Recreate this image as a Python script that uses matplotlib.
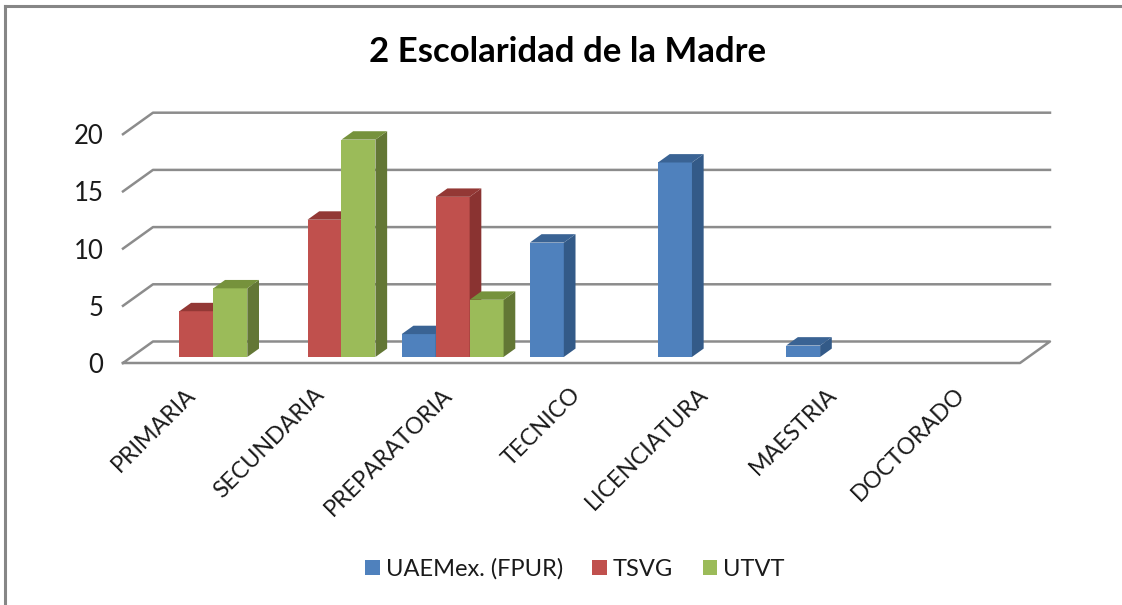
import matplotlib
matplotlib.use("Agg")
import matplotlib.pyplot as plt
from matplotlib.lines import Line2D
from matplotlib.patches import Patch
from matplotlib.transforms import ScaledTranslation

categories = ["PRIMARIA", "SECUNDARIA", "PREPARATORIA", "TECNICO", "LICENCIATURA", "MAESTRIA", "DOCTORADO"]
series_names = ["UAEMex. (FPUR)", "TSVG", "UTVT"]
uaemex = [0, 0, 2, 10, 17, 1, 0]
tsvg = [4, 12, 14, 0, 0, 0, 0]
utvt = [6, 19, 5, 0, 0, 0, 0]
y_ticks = [0, 5, 10, 15, 20]

front_cols = ["#4F81BD", "#C0504D", "#9BBB59"]
top_cols = ["#3A6394", "#933835", "#76923C"]
side_cols = ["#335A88", "#8A3331", "#637735"]
grid_col = "#8C8C8C"
text_col = "#1A1A1A"

plt.rcParams["font.family"] = ["Lato", "DejaVu Sans"]

W, H = 1122, 605
fig = plt.figure(figsize=(W / 100, H / 100), dpi=100, facecolor="white")
ax = fig.add_axes([123 / W, (H - 363) / H, (1020 - 123) / W, 228.8 / H])
ax.set_xlim(-0.5, 6.5)
ax.set_ylim(0, 20)
ax.patch.set_alpha(0)
for s in ax.spines.values():
    s.set_visible(False)

# depth of the fake 3d box, in data units
depth_x = 0.234
depth_y = 1.88
bar_w = 0.265
bar_start = 0.31
bar_end = 0.70
bar_lift = 0.28

x0, x1 = -0.5, 6.5
for v in y_ticks:
    if v == 0:
        ax.plot([x0, x1, x1 + depth_x, x0 + depth_x, x0], [0, 0, depth_y, depth_y, 0],
                color=grid_col, lw=1.8, clip_on=False, zorder=1)
    else:
        ax.plot([x0, x0 + depth_x, x1 + depth_x], [v, v + depth_y, v + depth_y],
                color=grid_col, lw=1.8, clip_on=False, zorder=1)


def draw_bar(x, v, i):
    # x is the left edge on the front plane of the box
    ax_ = x + bar_start * depth_x
    bx = x + bar_end * depth_x
    ay = bar_lift * depth_y
    by = (bar_lift + bar_end - bar_start) * depth_y
    w = bar_w
    z = 3 + i
    ax.bar(ax_, v, width=w, bottom=ay, align="edge", color=front_cols[i], lw=0, zorder=z, clip_on=False)
    ax.fill([ax_ + w, bx + w, bx + w, ax_ + w], [ay, by, by + v, ay + v],
            color=side_cols[i], lw=0, zorder=z, clip_on=False)
    ax.fill([ax_, ax_ + w, bx + w, bx], [ay + v, ay + v, by + v, by + v],
            color=top_cols[i], lw=0, zorder=z, clip_on=False)


for i, vals in enumerate([uaemex, tsvg, utvt]):
    for c, v in enumerate(vals):
        if v > 0:
            draw_bar(c - 1.5 * bar_w + i * bar_w, v, i)

ax.set_yticks(y_ticks)
ax.set_xticks(range(len(categories)))
ax.set_xticklabels(categories, rotation=45, ha="right", va="top", rotation_mode="anchor",
                   fontsize=16.7, color=text_col)
ax.tick_params(axis="both", length=0)
ax.tick_params(axis="y", pad=14, labelsize=18.5, labelcolor=text_col)
ax.tick_params(axis="x", pad=15)
off = ScaledTranslation(-2 / 100, 0, fig.dpi_scale_trans)
for lab in ax.get_xticklabels():
    lab.set_transform(lab.get_transform() + off)

fig.text(568 / W, (H - 52) / H, "2 Escolaridad de la Madre", ha="center", va="center",
         fontsize=25, fontweight="bold", color="black")

handles = [Patch(facecolor=c, edgecolor="none") for c in front_cols]
fig.legend(handles, series_names, loc="center", bbox_to_anchor=(575 / W, (H - 569) / H), ncol=3,
           frameon=False, fontsize=17, labelcolor=text_col, handlelength=0.62, handleheight=0.62,
           handletextpad=0.25, columnspacing=1.25)

# outer frame of the pasted chart
fig.add_artist(Line2D([5 / W, 5 / W], [0, (H - 6) / H], color="#868686", lw=2.2))
fig.add_artist(Line2D([5 / W, 1], [(H - 6) / H, (H - 6) / H], color="#868686", lw=2.2))

fig.savefig("out.png", dpi=100)
